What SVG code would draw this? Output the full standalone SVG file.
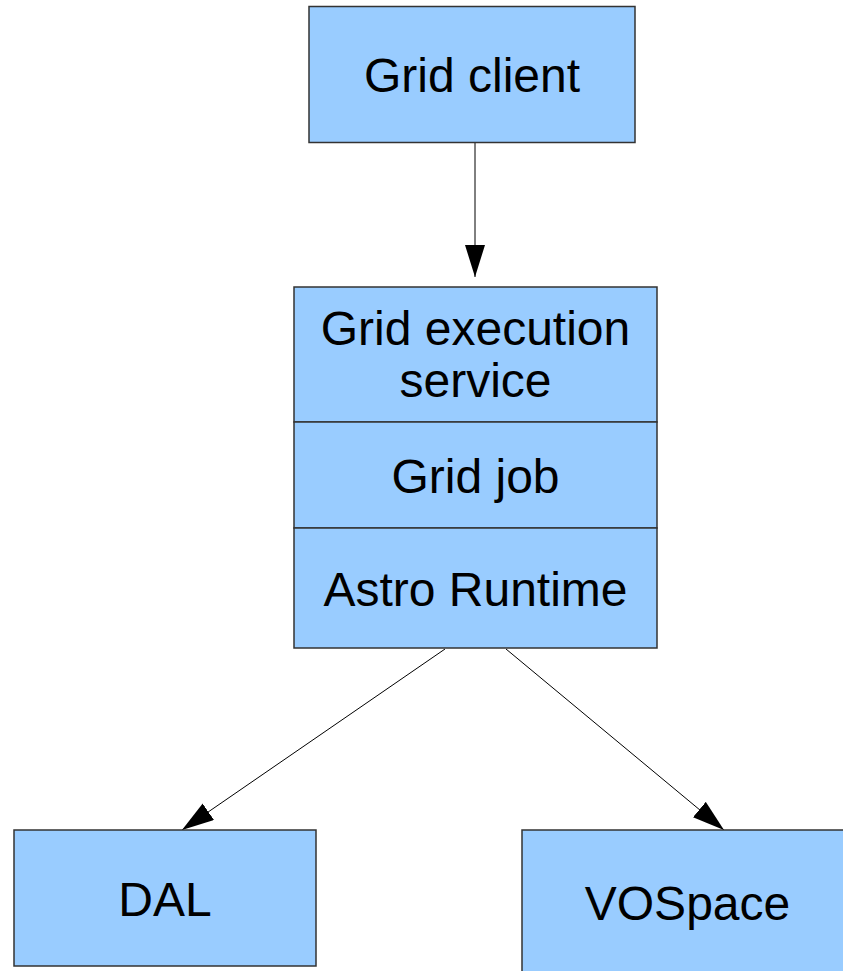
<svg xmlns="http://www.w3.org/2000/svg" width="843" height="971" viewBox="0 0 843 971">
<style>
.box{fill:#99ccff;stroke:#333333;stroke-width:1.5}
.t{font-family:"Liberation Sans",Arial,sans-serif;font-size:48px;fill:#000;text-anchor:middle}
.c{stroke:#000;stroke-width:1;fill:none}
</style>
<defs>
<marker id="ah" markerUnits="userSpaceOnUse" markerWidth="34" markerHeight="22" refX="32" refY="10" orient="auto" viewBox="0 0 34 22">
<path d="M0,0 L32,10 L0,20 z" fill="#000"/>
</marker>
</defs>
<rect width="843" height="971" fill="#fff"/>
<g id="connectors">
<line class="c" x1="475" y1="143" x2="475" y2="277" marker-end="url(#ah)"/>
<line class="c" x1="445" y1="649" x2="182" y2="830" marker-end="url(#ah)"/>
<line class="c" x1="506" y1="649" x2="724" y2="830" marker-end="url(#ah)"/>
</g>
<g id="grid-client">
<rect class="box" x="309" y="6.5" width="326" height="136"/>
<text class="t" x="472" y="92">Grid client</text>
</g>
<g id="grid-execution-service">
<rect class="box" x="294" y="287" width="363" height="135"/>
<text class="t" x="475.5" y="345">Grid execution</text>
<text class="t" x="475.5" y="397">service</text>
</g>
<g id="grid-job">
<rect class="box" x="294" y="422" width="363" height="106"/>
<text class="t" x="475.5" y="493">Grid job</text>
</g>
<g id="astro-runtime">
<rect class="box" x="294" y="528" width="363" height="120"/>
<text class="t" x="475.5" y="606">Astro Runtime</text>
</g>
<g id="dal">
<rect class="box" x="14" y="830" width="302" height="136"/>
<text class="t" x="165" y="916">DAL</text>
</g>
<g id="vospace">
<rect class="box" x="522" y="830" width="340" height="150"/>
<text class="t" x="687.5" y="920">VOSpace</text>
</g>
</svg>
